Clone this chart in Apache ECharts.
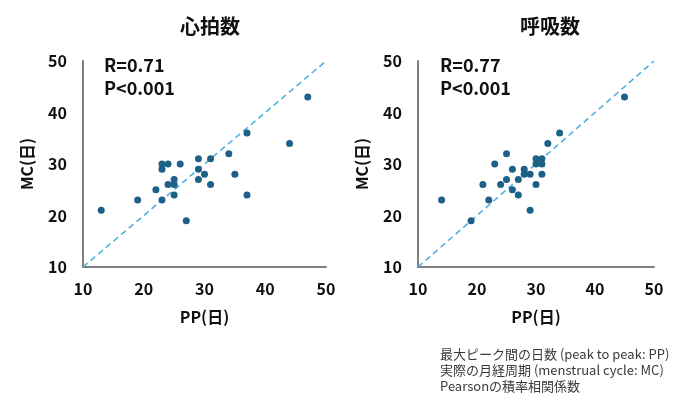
<!DOCTYPE html>
<html>
<head>
<meta charset="utf-8">
<script src="https://cdn.jsdelivr.net/npm/echarts@6/dist/echarts.min.js"></script>
<style>
html,body{margin:0;padding:0;background:#fff;}
#chart{width:690px;height:406px;}
</style>
</head>
<body>
<div id="chart"></div>
<script>
// 心拍数 (heart rate): [PP, MC]
const heartPP = [13, 19, 22, 23, 23, 23, 24, 24, 25, 25, 25, 26, 27, 29, 29, 29, 30, 31, 31, 34, 35, 37, 37, 44, 47];
const heartMC = [21, 23, 25, 23, 30, 29, 30, 26, 27, 26, 24, 30, 19, 31, 29, 27, 28, 31, 26, 32, 28, 36, 24, 34, 43];
// 呼吸数 (respiration rate): [PP, MC]
const respPP = [14, 19, 21, 22, 23, 24, 25, 25, 26, 26, 27, 27, 28, 28, 29, 29, 30, 30, 30, 31, 31, 31, 32, 34, 45];
const respMC = [23, 19, 26, 23, 30, 26, 32, 27, 29, 25, 27, 24, 29, 28, 28, 21, 31, 30, 26, 31, 30, 28, 34, 36, 43];
const identityLine = [[10, 10], [50, 50]];
const axisMin = 10, axisMax = 50, axisStep = 10;
const titles = ['心拍数', '呼吸数'];
const stats = [['R=0.71', 'P<0.001'], ['R=0.77', 'P<0.001']];
const notes = ['最大ピーク間の日数 (peak to peak: PP)', '実際の月経周期 (menstrual cycle: MC)', 'Pearsonの積率相関係数'];

const FONT = '"Noto Sans CJK JP", "Noto Sans", sans-serif';
const pairs = (xs, ys) => xs.map((x, i) => [x, ys[i]]);

const grids = [
  {left: 83, right: 364, top: 61, bottom: 139},
  {left: 418, right: 36, top: 61, bottom: 139}
];
function xAxis(i) {
  return {
    gridIndex: i, type: 'value', min: axisMin, max: axisMax, interval: axisStep,
    name: 'PP(日)', nameLocation: 'middle', nameGap: 42,
    nameTextStyle: {fontFamily: FONT, fontSize: 16, fontWeight: 'bold', color: '#111'},
    axisLine: {show: true, lineStyle: {color: '#7f7f7f', width: 2}},
    axisTick: {show: false}, splitLine: {show: false},
    axisLabel: {margin: 14, fontFamily: FONT, fontSize: 16, fontWeight: 'bold', color: '#111'}
  };
}
function yAxis(i) {
  return {
    gridIndex: i, type: 'value', min: axisMin, max: axisMax, interval: axisStep,
    name: 'MC(日)', nameLocation: 'middle', nameGap: 48,
    nameTextStyle: {fontFamily: FONT, fontSize: 16, fontWeight: 'bold', color: '#111'},
    axisLine: {show: true, lineStyle: {color: '#7f7f7f', width: 2}},
    axisTick: {show: false}, splitLine: {show: false},
    axisLabel: {margin: 16, fontFamily: FONT, fontSize: 16, fontWeight: 'bold', color: '#111'}
  };
}
function scatter(i, data) {
  return {
    type: 'scatter', xAxisIndex: i, yAxisIndex: i, data: data,
    symbolSize: 7, itemStyle: {color: '#1d6088', opacity: 1}, z: 3, silent: true
  };
}
function diag(i) {
  return {
    type: 'line', xAxisIndex: i, yAxisIndex: i, data: identityLine,
    symbol: 'none', lineStyle: {color: '#4fb0e2', width: 1.6, type: [6, 4]}, z: 2, silent: true
  };
}

const graphics = [];
const statX = [104, 440];
stats.forEach((s, i) => {
  s.forEach((t, j) => {
    graphics.push({type: 'text', left: statX[i], top: 56 + j * 23,
      style: {text: t, font: 'bold 18px ' + FONT, fill: '#111'}});
  });
});
notes.forEach((t, j) => {
  graphics.push({type: 'text', left: 440, top: 348 + j * 16,
    style: {text: t, font: '13px ' + FONT, fill: '#3a3a3a'}});
});

const chart = echarts.init(document.getElementById('chart'), null, {renderer: 'canvas'});
chart.setOption({
  animation: false,
  backgroundColor: '#fff',
  title: [
    {text: titles[0], left: 205, top: 11, textAlign: 'center',
      textStyle: {fontFamily: FONT, fontSize: 20, fontWeight: 'bold', color: '#111'}},
    {text: titles[1], left: 545, top: 11, textAlign: 'center',
      textStyle: {fontFamily: FONT, fontSize: 20, fontWeight: 'bold', color: '#111'}}
  ],
  grid: grids,
  xAxis: [xAxis(0), xAxis(1)],
  yAxis: [yAxis(0), yAxis(1)],
  series: [diag(0), scatter(0, pairs(heartPP, heartMC)), diag(1), scatter(1, pairs(respPP, respMC))],
  graphic: graphics
});
</script>
</body>
</html>
